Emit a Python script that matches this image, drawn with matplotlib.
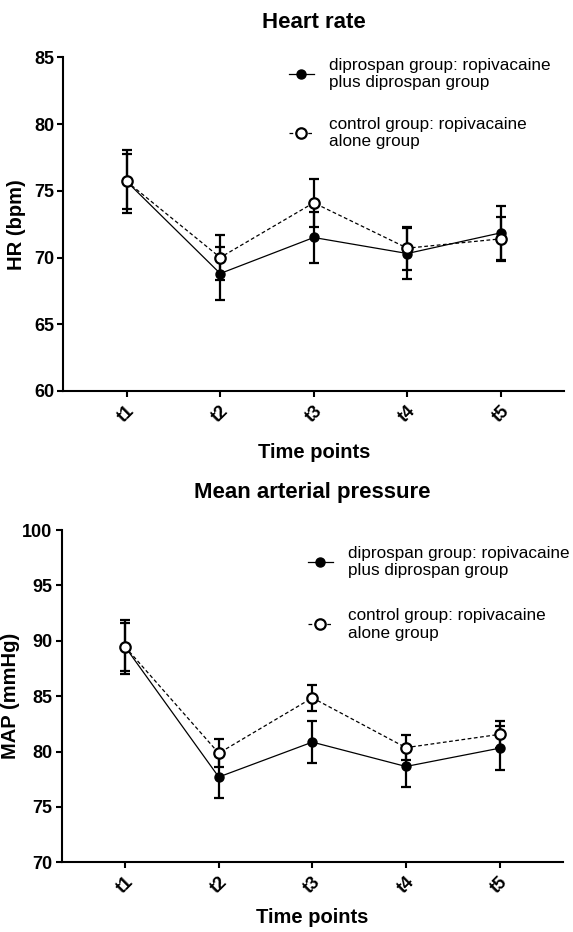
import matplotlib
matplotlib.use("Agg")
import matplotlib.pyplot as plt
from matplotlib.ticker import MultipleLocator

plt.rcParams['font.family'] = ['Liberation Sans', 'DejaVu Sans']

time_labels = ["t1", "t2", "t3", "t4", "t5"]
x_pos = [1, 2, 3, 4, 5]

label_dip = "diprospan group: ropivacaine\nplus diprospan group"
label_ctl = "control group: ropivacaine\nalone group"

hr_dip = [75.7, 68.8, 71.5, 70.3, 71.85]
hr_dip_sd = [2.35, 2.0, 1.9, 1.9, 2.0]
hr_ctl = [75.7, 70.0, 74.1, 70.7, 71.4]
hr_ctl_sd = [2.05, 1.7, 1.8, 1.6, 1.65]

map_dip = [89.45, 77.7, 80.85, 78.65, 80.3]
map_dip_sd = [2.45, 1.9, 1.9, 1.85, 2.0]
map_ctl = [89.45, 79.85, 84.85, 80.35, 81.55]
map_ctl_sd = [2.15, 1.25, 1.15, 1.15, 1.2]

fig = plt.figure(figsize=(5.73, 9.32), dpi=100)

def panel(rect, dip, dip_sd, ctl, ctl_sd, ylim, title, title_pad, ylabel,
          ylab_x, xlab_pad, leg_anchor, labelspacing):
    ax = fig.add_axes(rect)
    ax.errorbar(x_pos, dip, yerr=dip_sd, fmt='none', ecolor='black',
                elinewidth=1.6, capsize=3.6, capthick=1.6, zorder=2)
    l1, = ax.plot(x_pos, dip, color='black', lw=0.9, ls='-', marker='o',
                  ms=6.5, mfc='black', mec='black', zorder=3,
                  label=label_dip)
    ax.errorbar(x_pos, ctl, yerr=ctl_sd, fmt='none', ecolor='black',
                elinewidth=1.6, capsize=3.6, capthick=1.6, zorder=4)
    l2, = ax.plot(x_pos, ctl, color='black', lw=0.9, ls=(0, (3, 2)),
                  marker='o', ms=7.5, mfc='white', mec='black', mew=1.6,
                  zorder=5, label=label_ctl)
    ax.set_xlim(0.325, 5.675)
    ax.set_ylim(*ylim)
    ax.yaxis.set_major_locator(MultipleLocator(5))
    ax.set_xticks(x_pos)
    ax.set_xticklabels(time_labels, rotation=45, fontweight='bold',
                       fontsize=13, ha='center')
    for lab in ax.get_yticklabels():
        lab.set_fontweight('bold')
        lab.set_fontsize(13)
    ax.spines['top'].set_visible(False)
    ax.spines['right'].set_visible(False)
    ax.spines['left'].set_linewidth(1.5)
    ax.spines['bottom'].set_linewidth(1.5)
    ax.tick_params(axis='both', direction='out', length=4.3, width=1.5)
    ax.tick_params(axis='y', pad=2.5)
    ax.tick_params(axis='x', pad=4)
    ax.set_title(title, fontsize=16, fontweight='bold', pad=title_pad)
    ax.set_xlabel("Time points", fontsize=14.5, fontweight='bold',
                  labelpad=xlab_pad)
    ax.set_ylabel(ylabel, fontsize=14.5, fontweight='bold')
    ax.yaxis.set_label_coords(ylab_x, 0.5)
    ax.legend(handles=[l1, l2], loc='upper left', bbox_to_anchor=leg_anchor,
              frameon=False, fontsize=12.3, handlelength=1.46,
              handletextpad=0.88, labelspacing=labelspacing, borderpad=0,
              borderaxespad=0, numpoints=1)
    return ax

panel([0.1108, 0.5805, 0.8735, 0.358], hr_dip, hr_dip_sd, hr_ctl, hr_ctl_sd,
      (60, 85), "Heart rate", 21, "HR (bpm)", -0.075, 12,
      (0.4505, 0.998), 1.55)
panel([0.1082, 0.0748, 0.8738, 0.3565], map_dip, map_dip_sd, map_ctl,
      map_ctl_sd, (70, 100), "Mean arterial pressure", 23, "MAP (mmHg)",
      -0.084, 8, (0.4907, 0.952), 1.75)

fig.savefig("out.png", dpi=100)
